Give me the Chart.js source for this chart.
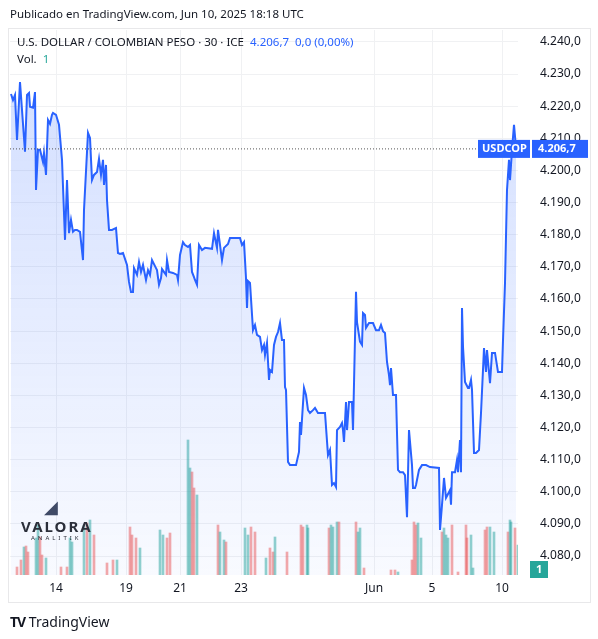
<!DOCTYPE html>
<html>
<head>
<meta charset="utf-8">
<title>USDCOP</title>
<style>
  body { margin:0; background:#fff; font-family:"Noto Sans", "DejaVu Sans", sans-serif; color:#131722; }
  #wrap { position:relative; width:598px; height:639px; }
  #box { position:absolute; left:8px; top:28px; width:583px; height:575px; border:1px solid #e8e8ea; box-sizing:border-box; }
  canvas { position:absolute; left:0; top:0; }
  .t { position:absolute; white-space:nowrap; font-size:11.5px; }
</style>
</head>
<body>
<div id="wrap">
  <div id="box"></div>
  <canvas id="chart" width="598" height="639"></canvas>
  <div class="t" style="left:10px;top:6px;">Publicado en TradingView.com, Jun 10, 2025 18:18 UTC</div>
  <div class="t" style="left:17px;top:34px;">U.S. DOLLAR / COLOMBIAN PESO · 30 · ICE <span style="color:#2962ff">&nbsp;4.206,7&nbsp; 0,0 (0,00%)</span></div>
  <div class="t" style="left:17px;top:51px;">Vol. <span style="color:#26a69a">&nbsp;1</span></div>
  <div class="t" style="left:44px;top:494px;font-size:18px;color:#3f4a66;">&#9698;</div>
  <div class="t" style="left:21px;top:516px;font-size:15px;font-weight:bold;letter-spacing:2px;color:#2b2f3a;">VALORA</div>
  <div class="t" style="left:31px;top:534px;font-size:6px;letter-spacing:3px;color:#2b2f3a;">ANALITIK</div>
  <div class="t" style="left:10px;top:612px;font-size:14px;"><b style="letter-spacing:-1px">TV</b> TradingView</div>
</div>
<script src="https://cdn.jsdelivr.net/npm/chart.js"></script>
<script>
// time index (30-min bars, compressed) and closing prices
const times = [11,13,15,17,20,25,27,29,30,33,35,36,38,40,43,44,46,48,50,52,53,56,59,62,65,67,69,71,73,75,77,80,83,84,88,90,92,94,97,99,101,103,104,106,107,109,112,116,118,120,123,127,129,131,133,134,137,139,141,143,144,146,148,150,152,156,157,159,161,162,166,167,169,173,177,178,180,183,185,188,190,192,194,195,197,199,202,205,212,214,216,217,218,220,222,224,228,230,240,242,244,246,247,248,250,253,255,257,260,262,264,265,267,269,270,272,274,276,278,280,282,284,285,286,288,290,296,299,300,301,304,306,308,310,313,315,318,325,328,330,332,334,336,337,340,342,343,344,346,347,349,352,353,356,357,360,362,363,365,366,369,373,376,379,381,383,385,387,389,390,391,393,396,398,400,403,405,407,409,412,413,415,416,419,422,426,430,439,440,442,444,446,448,450,451,452,455,457,458,460,461,462,463,465,468,469,471,472,474,476,479,481,484,486,487,490,492,495,498,502,503,505,507,509,510,512,514,516];
const prices = [4223.8,4221.9,4223.5,4209.5,4227.5,4205.8,4223.5,4224.1,4219.8,4219.5,4224.4,4193.9,4206.4,4206.4,4202.6,4205.4,4198.6,4215.7,4214.5,4217.3,4217.9,4217.3,4214.2,4203.3,4178.4,4197.0,4180.5,4184.6,4180.9,4181.5,4181.5,4180.9,4172.1,4187.7,4211.7,4210.1,4197.0,4198.6,4199.5,4203.6,4198.6,4203.3,4195.5,4201.7,4190.8,4181.5,4181.5,4182.1,4174.3,4174.0,4174.3,4170.6,4165.3,4162.2,4162.2,4169.6,4167.5,4171.5,4168.4,4170.6,4169.0,4165.9,4169.0,4167.5,4172.1,4169.6,4169.0,4164.4,4166.5,4169.3,4167.5,4172.1,4168.4,4168.1,4167.5,4165.9,4173.7,4177.7,4176.8,4176.2,4176.8,4168.4,4166.8,4165.9,4164.4,4176.8,4175.2,4175.9,4175.6,4180.5,4177.4,4175.9,4181.5,4176.8,4172.1,4175.9,4177.1,4179.0,4179.0,4176.8,4177.7,4166.5,4157.2,4165.6,4165.0,4150.3,4151.9,4148.8,4148.2,4144.1,4145.7,4142.6,4146.3,4134.8,4137.9,4137.3,4145.7,4148.2,4149.7,4152.5,4147.2,4147.2,4132.6,4131.7,4109.3,4108.3,4108.3,4112.4,4121.7,4117.7,4132.3,4130.1,4125.4,4124.5,4125.4,4126.1,4124.5,4124.5,4111.4,4113.0,4102.1,4102.7,4101.5,4119.2,4120.2,4121.4,4119.2,4115.5,4127.9,4119.2,4127.9,4127.9,4119.2,4162.2,4152.8,4146.7,4145.7,4155.6,4155.0,4151.0,4152.5,4152.5,4150.3,4150.3,4151.9,4150.0,4149.4,4140.4,4136.3,4133.2,4138.5,4130.1,4130.1,4106.8,4106.1,4106.1,4105.2,4092.1,4119.2,4108.3,4101.2,4101.2,4102.1,4106.8,4108.3,4108.3,4107.7,4107.4,4088.1,4095.9,4104.3,4098.1,4099.3,4100.5,4096.0,4106.1,4106.1,4109.9,4106.1,4116.1,4106.1,4157.2,4145.1,4134.2,4132.3,4132.3,4134.8,4131.7,4112.1,4112.1,4113.0,4124.5,4144.7,4137.3,4144.1,4133.8,4143.2,4143.2,4137.3,4137.3,4147.2,4165.0,4193.9,4203.3,4197.0,4206.4,4214.2,4207.0];

// volume bars
const volTimes = [17,21,24,26,28,36,38,40,42,46,61,67,70,72,84,87,90,94,107,113,117,130,132,136,140,160,163,167,170,188,190,192,194,197,218,220,224,226,245,248,251,255,266,270,273,275,287,301,303,307,308,329,331,333,337,339,356,358,360,364,391,395,398,412,414,416,418,421,442,444,446,448,452,458,466,467,471,473,485,487,490,494,508,510,511,515,518];
const volumes = [8,15,28,29,23,37,50,38,20,17,8,8,37,33,50,52,55,40,12,15,15,48,40,37,27,45,40,37,42,135,107,103,87,80,50,43,35,33,47,40,48,43,17,27,23,38,23,50,48,50,47,47,50,48,53,53,53,43,47,7,5,5,3,15,53,50,52,37,43,47,40,37,50,3,50,37,40,7,45,48,48,43,43,55,53,47,30];
const volDir = "ddudduuddudduuududdduddduuudduudduduuduuddudduddduuduuudduuddduddduuduuudddduudduuduudu";

const xTicks = [56, 126, 180, 241, 374, 432, 502];
const xTickLabels = ["14", "19", "21", "23", "Jun", "5", "10"];
const yTicks = [4080,4090,4100,4110,4120,4130,4140,4150,4160,4170,4180,4190,4200,4210,4220,4230,4240];
const lastPrice = 4206.7;

function fmt(v) {
  const s = v.toFixed(1).replace('.', ',');
  const [a, b] = s.split(',');
  return a.replace(/\B(?=(\d{3})+(?!\d))/g, '.') + ',' + b;
}

const pricePts = times.map((t, i) => ({ x: t, y: prices[i] }));
const volPts = volTimes.map((t, i) => ({ x: t, y: volumes[i] }));
const volColors = volTimes.map((t, i) => volDir[i] === 'u' ? 'rgba(38,166,154,0.5)' : 'rgba(239,83,80,0.5)');

const overlay = {
  id: 'overlay',
  afterDatasetsDraw(chart) {
    const { ctx, chartArea: a, scales: { y } } = chart;
    const py = y.getPixelForValue(lastPrice);
    ctx.save();
    ctx.strokeStyle = '#555';
    ctx.setLineDash([1, 2]);
    ctx.lineWidth = 1;
    ctx.beginPath(); ctx.moveTo(a.left, py); ctx.lineTo(a.right, py); ctx.stroke();
    ctx.setLineDash([]);
    ctx.font = 'bold 11px "Noto Sans", sans-serif';
    ctx.fillStyle = '#2962ff';
    ctx.fillRect(478, py - 9, 52, 18);
    ctx.fillRect(532, py - 9, 56, 18);
    ctx.fillStyle = '#fff';
    ctx.textBaseline = 'middle';
    ctx.fillText('USDCOP', 482, py);
    ctx.fillText(fmt(lastPrice), 538, py);
    ctx.fillStyle = '#26a69a';
    ctx.fillRect(530, a.bottom - 14, 18, 17);
    ctx.fillStyle = '#fff';
    ctx.fillText('1', 536, a.bottom - 5);
    ctx.restore();
  }
};

new Chart(document.getElementById('chart'), {
  data: {
    datasets: [
      {
        type: 'line', data: pricePts, yAxisID: 'y', order: 1,
        borderColor: '#2962ff', borderWidth: 2, pointRadius: 0, tension: 0,
        fill: 'start',
        backgroundColor(c) {
          const a = c.chart.chartArea;
          if (!a) return 'rgba(41,98,255,0.15)';
          const g = c.chart.ctx.createLinearGradient(0, a.top, 0, a.bottom);
          g.addColorStop(0, 'rgba(41,98,255,0.22)');
          g.addColorStop(1, 'rgba(41,98,255,0.03)');
          return g;
        }
      },
      {
        type: 'bar', data: volPts, yAxisID: 'v', order: 2,
        backgroundColor: volColors, barThickness: 2
      }
    ]
  },
  options: {
    responsive: false, animation: false,
    layout: { padding: { left: 10, top: 30, right: 0, bottom: 29 } },
    plugins: { legend: { display: false }, tooltip: { enabled: false } },
    scales: {
      x: {
        type: 'linear', min: 10, max: 518, offset: false,
        afterBuildTicks(s) { s.ticks = xTicks.map(v => ({ value: v })); },
        afterFit(s) { s.height = 35; },
        ticks: {
          autoSkip: false, maxRotation: 0, color: '#131722', padding: 6,
          font: { size: 12, family: '"Noto Sans", sans-serif' },
          callback: (v) => xTickLabels[xTicks.indexOf(v)]
        },
        grid: { color: '#f0f1f3', drawTicks: false, offset: false },
        border: { display: false }
      },
      y: {
        position: 'right', min: 4074.1, max: 4243.7,
        afterBuildTicks(s) { s.ticks = yTicks.map(v => ({ value: v })); },
        afterFit(s) { s.width = 80; },
        ticks: {
          color: '#131722', padding: 22,
          font: { size: 12, family: '"Noto Sans", sans-serif' },
          callback: (v) => fmt(v)
        },
        grid: { color: '#f0f1f3', drawTicks: false },
        border: { display: false }
      },
      v: { display: false, min: 0, max: 545 }
    }
  },
  plugins: [overlay]
});
</script>
</body>
</html>
